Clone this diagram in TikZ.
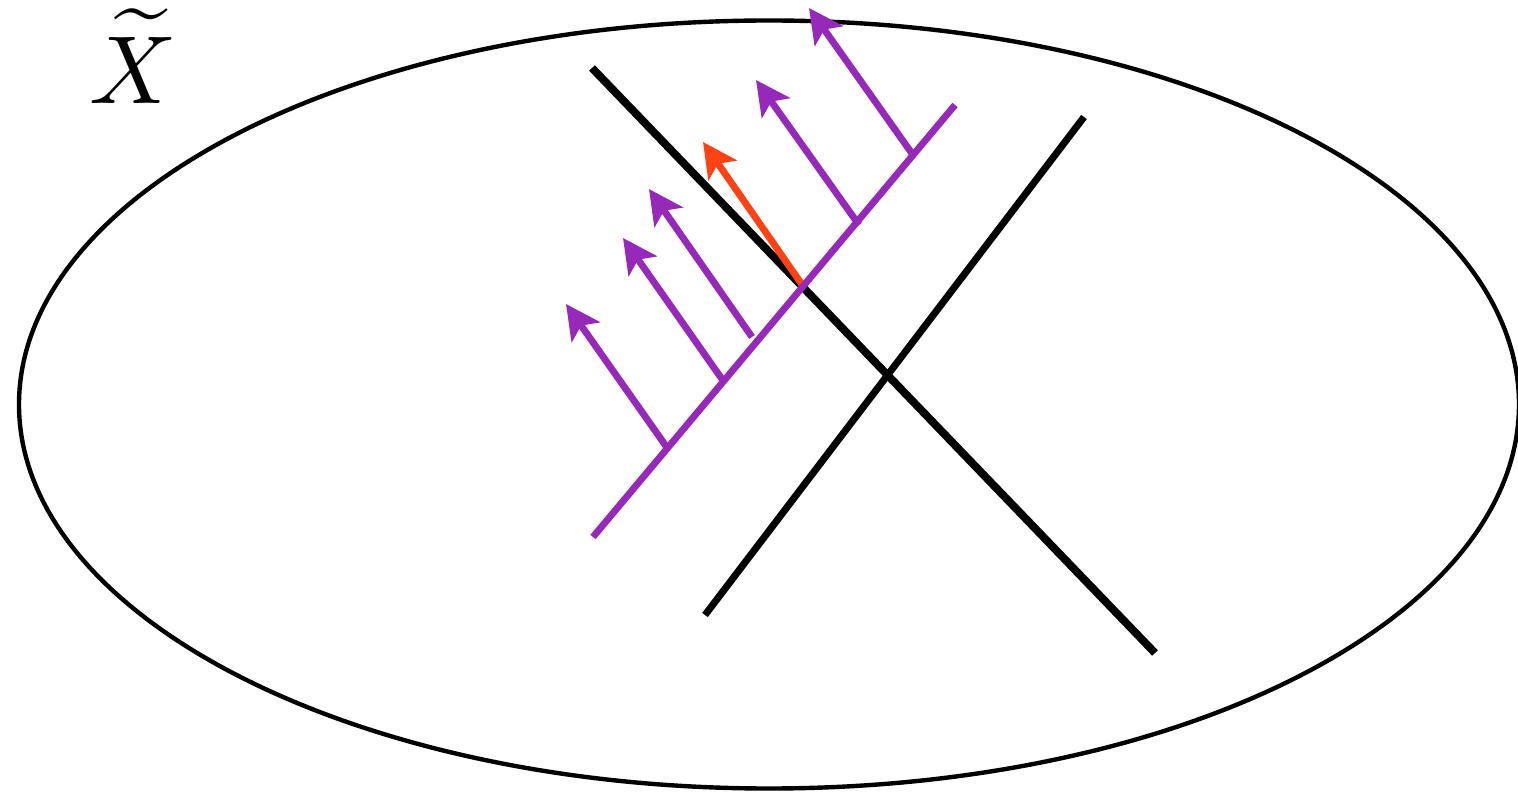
\documentclass[tikz,border=0pt]{standalone}
\usetikzlibrary{arrows.meta}
\definecolor{vpurple}{RGB}{150,41,185}
\definecolor{vorange}{RGB}{255,66,20}
\begin{document}
\begin{tikzpicture}[x=0.02cm,y=-0.02cm,
  vec/.style={line width=3.9pt,-{Stealth[length=19.5pt,width=19.5pt,inset=4.5pt]}},
  blk/.style={line width=4pt,black}]
\useasboundingbox (0,0) rectangle (1518,793);
\draw[line width=2.5pt] (769,404.5) ellipse [x radius=750,y radius=384];
\node[scale=5.5,inner sep=0pt,anchor=south west] (lbl) at (88,105) {$\widetilde{X}$};
% black lines
\coordinate (a1) at (592,68);
\coordinate (a2) at (1155,653);
\coordinate (b1) at (705,615);
\coordinate (b2) at (1084,117);
\draw[blk,line width=4.5pt] (a1) -- (a2);
\draw[blk] (b1) -- (b2);
% orange vector
\coordinate (o0) at (803,286);
\coordinate (o1) at (703,142);
\draw[vec,vorange] (o0) -- (o1);
% purple line
\coordinate (p1) at (593,537);
\coordinate (p2) at (955,105);
\draw[line width=3.9pt,vpurple] (p1) -- (p2);
% purple vectors
\foreach \bx/\by/\tx/\ty in {668/449/566/304, 724/382/623/238, 752/337/649/189, 859/225/756/80, 913/155/809/8}{
  \coordinate (s) at (\bx,\by);
  \coordinate (t) at (\tx,\ty);
  \draw[vec,vpurple] (s) -- (t);
}
\end{tikzpicture}
\end{document}
